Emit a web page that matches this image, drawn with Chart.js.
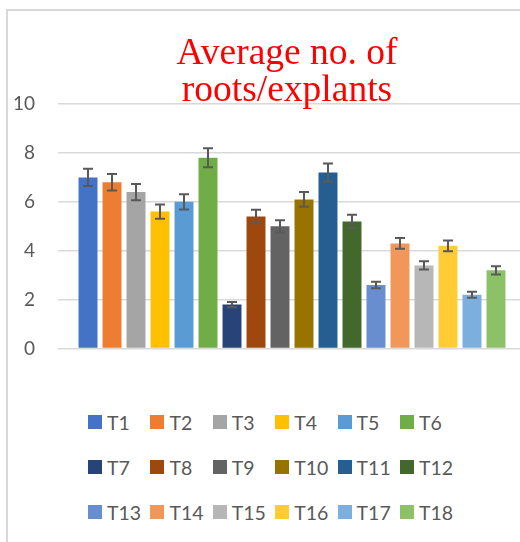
<!DOCTYPE html>
<html lang="en">

<head>
    <meta charset="UTF-8">
    <title>Average no. of roots/explants</title>
    <script src="https://cdn.jsdelivr.net/npm/chart.js"></script>
    <style>
        html, body { margin: 0; padding: 0; background: #fff; overflow: hidden; width: 520px; height: 542px; }
        .frame { position: absolute; left: 6px; top: 9px; width: 600px; height: 600px;
                 border-left: 2px solid #d9d9d9; border-top: 2px solid #d9d9d9; }
        #myChart { position: absolute; left: 0; top: 0; }
        .titulo { position: absolute; left: 0; top: 34px; width: 574px; text-align: center;
                  font-family: "Liberation Serif", "Times New Roman", serif; font-size: 37.5px;
                  line-height: 36.7px; color: #ff0000; }
        .legenda { position: absolute; left: 88px; top: 399.5px; display: grid;
                   grid-template-columns: repeat(6, 62.4px); grid-auto-rows: 45px;
                   font-family: Lato, "Open Sans", sans-serif; font-size: 19.5px; color: #595959; }
        .legenda div { display: flex; align-items: center; white-space: nowrap; }
        .legenda span.caixa { width: 14px; height: 14px; margin-right: 5px; flex: none; }
    </style>
</head>

<body>
    <div class="frame"></div>
    <canvas id="myChart" width="534" height="383"></canvas>
    <div class="titulo">Average no. of<br>roots/explants</div>
    <div id="div_legenda" class="legenda"></div>
</body>
<script>
    // tratamentos
    var tratamentos = ['T1', 'T2', 'T3', 'T4', 'T5', 'T6', 'T7', 'T8', 'T9',
        'T10', 'T11', 'T12', 'T13', 'T14', 'T15', 'T16', 'T17', 'T18']
    // media de raizes por explante
    var medias = [7.0, 6.8, 6.4, 5.6, 6.0, 7.8, 1.8, 5.4, 5.0,
        6.1, 7.2, 5.2, 2.6, 4.3, 3.4, 4.2, 2.2, 3.2]
    // erro padrao
    var erros = [0.35, 0.34, 0.33, 0.29, 0.31, 0.39, 0.11, 0.28, 0.25,
        0.30, 0.37, 0.27, 0.13, 0.22, 0.17, 0.22, 0.12, 0.17]
    var eixoY = [0, 2, 4, 6, 8, 10]

    var cores = ['#4472C4', '#ED7D31', '#A5A5A5', '#FFC000', '#5B9BD5', '#70AD47',
        '#264478', '#9E480E', '#636363', '#997300', '#255E91', '#43682B',
        '#698ED0', '#F1975A', '#B7B7B7', '#FFCD33', '#7CAFDD', '#8CC168']

    var datasets = []
    for (var i = 0; i < tratamentos.length; i++) {
        datasets.push({
            label: tratamentos[i],
            data: [medias[i]],
            erro: erros[i],
            backgroundColor: cores[i],
            barPercentage: 0.79,
            categoryPercentage: 0.923
        })
    }

    // barras de erro desenhadas pela escala do grafico
    const barrasErro = {
        id: 'barrasErro',
        afterDatasetsDraw(chart) {
            const ctx = chart.ctx
            const y = chart.scales.y
            ctx.save()
            ctx.strokeStyle = '#595959'
            ctx.lineWidth = 2
            chart.data.datasets.forEach(function (ds, i) {
                const meta = chart.getDatasetMeta(i)
                meta.data.forEach(function (bar, j) {
                    const v = ds.data[j]
                    const topo = y.getPixelForValue(v + ds.erro)
                    const base = y.getPixelForValue(v - ds.erro)
                    ctx.beginPath()
                    ctx.moveTo(bar.x, topo)
                    ctx.lineTo(bar.x, base)
                    ctx.moveTo(bar.x - 5, topo)
                    ctx.lineTo(bar.x + 5, topo)
                    ctx.moveTo(bar.x - 5, base)
                    ctx.lineTo(bar.x + 5, base)
                    ctx.stroke()
                })
            })
            ctx.restore()
        }
    }

    const config = {
        type: 'bar',
        data: { labels: [''], datasets: datasets },
        options: {
            responsive: false,
            animation: false,
            layout: { padding: { left: 8, right: 8, top: 104, bottom: 12 } },
            plugins: {
                legend: { display: false },
                title: { display: false },
                tooltip: { enabled: false }
            },
            scales: {
                x: { display: false },
                y: {
                    min: 0,
                    max: 10,
                    afterFit: function (scale) { scale.width = 50 },
                    afterBuildTicks: function (scale) {
                        scale.ticks = eixoY.map(function (v) { return { value: v } })
                    },
                    border: { display: false },
                    grid: { color: '#d9d9d9', lineWidth: 1.5, drawTicks: false },
                    ticks: {
                        padding: 23,
                        color: '#595959',
                        font: { family: 'Lato', size: 19 }
                    }
                }
            }
        },
        plugins: [barrasErro]
    }

    let myChart = new Chart(document.getElementById('myChart'), config)

    // legenda em colunas como no excel
    var legenda = ''
    for (var i = 0; i < datasets.length; i++) {
        legenda += `<div><span class="caixa" style="background:${datasets[i].backgroundColor}"></span>${datasets[i].label}</div>`
    }
    div_legenda.innerHTML = legenda
</script>

</html>
